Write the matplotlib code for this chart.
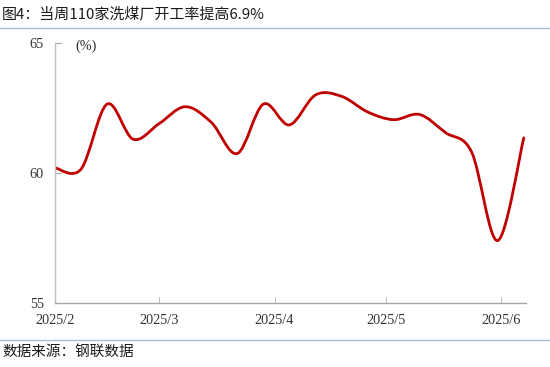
import numpy as np
import matplotlib
matplotlib.use("Agg")
import matplotlib.pyplot as plt
import matplotlib.dates as mdates
from matplotlib.path import Path
from matplotlib.patches import PathPatch
from matplotlib.lines import Line2D
import datetime as dt

# weekly washing plant operating rate (%)
dates = [dt.date(2025, 2, 1) + dt.timedelta(weeks=k) for k in range(19)]
rate = [60.2, 60.15, 62.65, 61.3, 61.9, 62.55, 61.95, 60.75, 62.65, 61.85,
        63.0, 62.95, 62.35, 62.05, 62.25, 61.55, 60.8, 57.4, 61.35]
tick_dates = [dt.date(2025, m, 1) for m in (2, 3, 4, 5, 6)]
tick_labels = ["2025/2", "2025/3", "2025/4", "2025/5", "2025/6"]
title = "图4：当周110家洗煤厂开工率提高6.9%"
source = "数据来源：钢联数据"

plt.rcParams['font.family'] = ['Noto Sans CJK SC', 'DejaVu Sans']
serif = ['Liberation Serif', 'DejaVu Serif']

fig = plt.figure(figsize=(5.5, 3.67), dpi=100)
ax = fig.add_axes([0.1, 0.1744, 0.8564, 0.7084])

# smoothed line (excel-style bezier through the weekly points)
x = mdates.date2num(dates)
y = np.array(rate)
verts = [(x[0], y[0])]
codes = [Path.MOVETO]
n = len(x)
for i in range(n - 1):
    p0 = np.array((x[max(i - 1, 0)], y[max(i - 1, 0)]))
    p1 = np.array((x[i], y[i]))
    p2 = np.array((x[i + 1], y[i + 1]))
    p3 = np.array((x[min(i + 2, n - 1)], y[min(i + 2, n - 1)]))
    c1 = p1 + (p2 - p0) / 6
    c2 = p2 - (p3 - p1) / 6
    verts += [tuple(c1), tuple(c2), tuple(p2)]
    codes += [Path.CURVE4] * 3
ax.add_patch(PathPatch(Path(verts, codes), fill=False, edgecolor='#C00000',
                       lw=2.0, capstyle='round', joinstyle='round'))

ax.set_xlim(mdates.date2num(dt.date(2025, 2, 1)), mdates.date2num(dt.date(2025, 2, 1)) + 126.6)
ax.set_ylim(55, 65)
ax.set_yticks([55, 60, 65])
ax.set_xticks(mdates.date2num(tick_dates))
ax.set_xticklabels(tick_labels)

for s in ['top', 'right']:
    ax.spines[s].set_visible(False)
ax.spines['left'].set_color('#BFBFBF')
ax.spines['bottom'].set_color('#A6A6A6')
ax.spines['left'].set_linewidth(1.0)
ax.spines['bottom'].set_linewidth(1.0)
ax.tick_params(axis='y', direction='in', length=4, color='#A6A6A6', pad=8)
ax.tick_params(axis='x', direction='in', length=4, color='#BFBFBF', pad=8)
for lab in ax.get_xticklabels() + ax.get_yticklabels():
    lab.set_family(serif)
    lab.set_fontsize(10.3)
    lab.set_color('#333333')

fig.text(0.137, 0.873, "(%)", family=serif, fontsize=10.3, color='#333333', va='center')

fig.text(0.004, 0.962, title, fontsize=10.8, color='#1a1a1a', va='center')
fig.text(0.004, 0.040, source, fontsize=10.5, color='#1a1a1a', va='center')
fig.add_artist(Line2D([0, 1], [0.9237, 0.9237], color='#A9BFE0', lw=1.0))
fig.add_artist(Line2D([0, 1], [0.0736, 0.0736], color='#A9BFE0', lw=1.0))

fig.savefig("out.png", dpi=100)
